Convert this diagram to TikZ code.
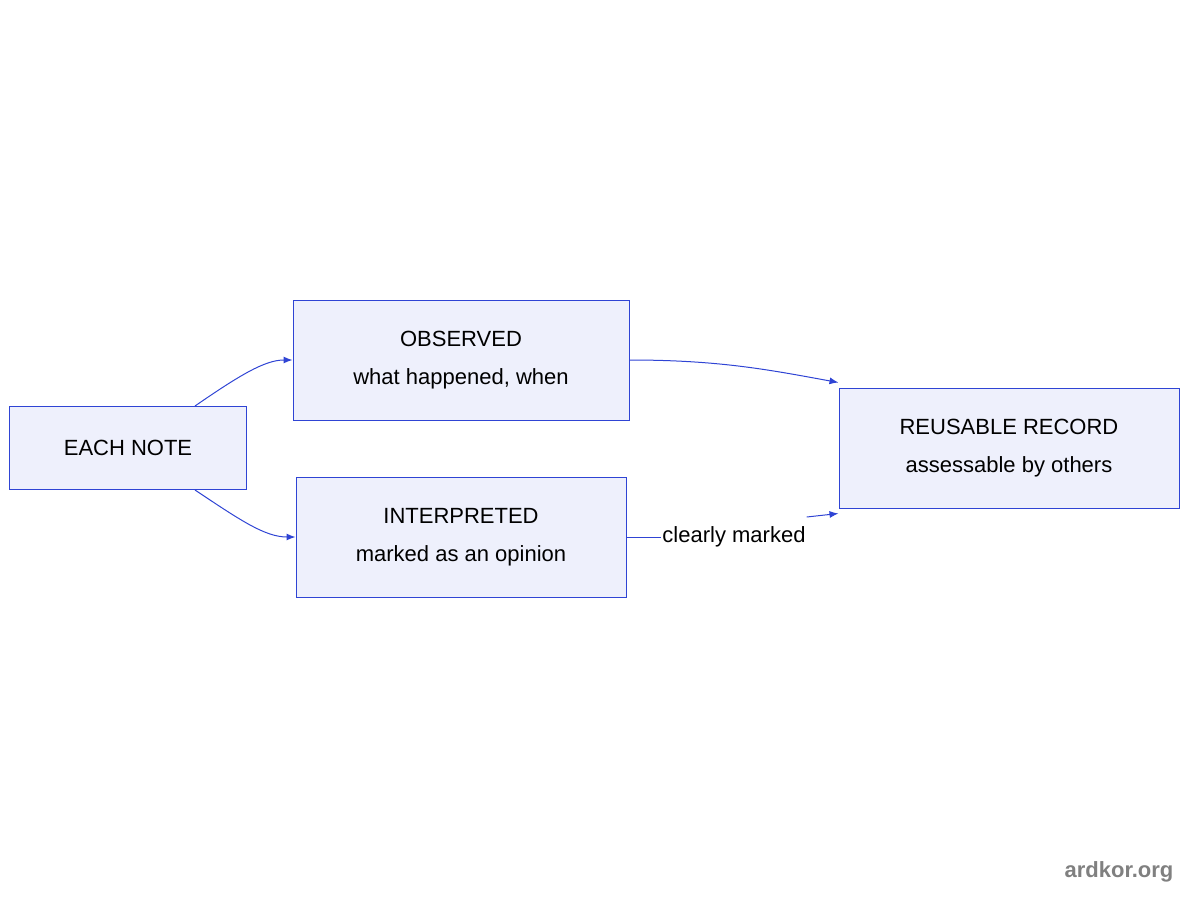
\documentclass[tikz,border=0pt]{standalone}
\usepackage{fontspec}
\setmainfont{Liberation Sans}
\usetikzlibrary{arrows.meta}
\definecolor{bfill}{HTML}{EEF0FC}
\definecolor{bline}{HTML}{2F44D4}
\begin{document}
\begin{tikzpicture}[x=1pt,y=-1pt,
 box/.style={draw=bline,fill=bfill,line width=1pt,align=center,font=\fontsize{22}{38}\selectfont,inner sep=0pt},
 arr/.style={draw=bline,line width=1pt,-{Latex[length=9pt,width=7pt]}}]
\useasboundingbox (0,0) rectangle (1200,900);
\node[box,minimum width=237,minimum height=83] (each) at (128,448) {EACH NOTE};
\node[box,minimum width=336,minimum height=120] (obs) at (461,360) {OBSERVED\\what happened, when};
\node[box,minimum width=330,minimum height=120] (int) at (461,537) {INTERPRETED\\marked as an opinion};
\node[box,minimum width=340,minimum height=120] (reu) at (1009,448) {REUSABLE RECORD\\assessable by others};
\node[font=\fontsize{22}{26}\selectfont,fill=white,inner sep=1pt] (lab) at (734,537) {clearly marked};
\node[font=\bfseries\fontsize{22}{26}\selectfont,text=gray] (wm) at (1119,872) {ardkor.org};
\draw[arr] ([xshift=-52]each.north east) .. controls (240,375) and (265,360) .. (obs.west);
\draw[arr] ([xshift=-52]each.south east) .. controls (240,520) and (265,537) .. (int.west);
\draw[arr] (obs.east) .. controls (720,360) and (770,370) .. ([yshift=5]reu.north west);
\draw[draw=bline,line width=1pt] (int.east) -- (lab.west);
\draw[arr] (lab.east|-0,517) -- ([yshift=-5]reu.south west);
\end{tikzpicture}
\end{document}
